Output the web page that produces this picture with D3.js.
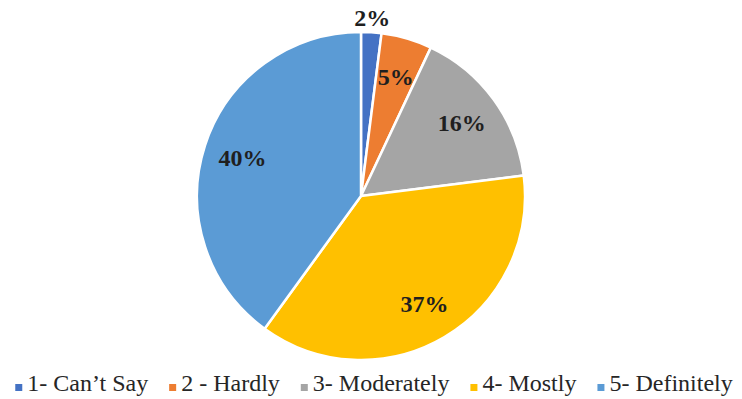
<!DOCTYPE html>
<html><head><meta charset="utf-8">
<script src="https://cdn.jsdelivr.net/npm/d3@7"></script>
<style>html,body{margin:0;padding:0;background:#fff;overflow:hidden}</style>
</head><body>
<svg id="chart" width="742" height="399"></svg>
<script>
const categories = ["1- Can\u2019t Say", "2 - Hardly", "3- Moderately", "4- Mostly", "5- Definitely"];
const values = [2, 5, 16, 37, 40];
const labels = ["2%", "5%", "16%", "37%", "40%"];
const colors = ["#4472C4", "#ED7D31", "#A5A5A5", "#FFC000", "#5B9BD5"];

const FONT = '"Liberation Serif", "Times New Roman", serif';
const svg = d3.select("#chart");
const cx = 361, cy = 196, r = 164;
const g = svg.append("g").attr("transform", `translate(${cx},${cy})`);

const pie = d3.pie().sort(null).value(d => d)(values);
const arc = d3.arc().innerRadius(0).outerRadius(r);
const labelArc = d3.arc().innerRadius(r * 0.76).outerRadius(r * 0.76);
const outArc = d3.arc().innerRadius(r * 1.09).outerRadius(r * 1.09);

g.selectAll("path.slice").data(pie).join("path")
  .attr("class", "slice")
  .attr("d", arc)
  .attr("fill", (d, i) => colors[i])
  .attr("stroke", "#fff")
  .attr("stroke-width", 2.5)
  .attr("stroke-linejoin", "round");

g.selectAll("text.lbl").data(pie).join("text")
  .attr("class", "lbl")
  .attr("transform", d => `translate(${(d.data < 3 ? outArc : labelArc).centroid(d)})`)
  .attr("text-anchor", "middle")
  .attr("dy", "0.35em")
  .style("font-family", FONT)
  .style("font-weight", "bold")
  .style("font-size", "24px")
  .attr("fill", "#1f1f1f")
  .text((d, i) => labels[i]);

// legend
const leg = svg.append("g");
const items = leg.selectAll("g").data(categories).join("g");
items.append("rect").attr("width", 7).attr("height", 7).attr("y", -7)
  .attr("fill", (d, i) => colors[i]);
items.append("text").attr("x", 12).attr("y", 0)
  .style("font-family", FONT)
  .style("font-size", "24px")
  .attr("fill", "#262626")
  .text(d => d);
let x = 0;
const gap = 21;
items.each(function() {
  const el = d3.select(this);
  const w = el.select("text").node().getComputedTextLength() + 12;
  el.attr("transform", `translate(${x},0)`);
  x += w + gap;
});
const total = x - gap;
leg.attr("transform", `translate(${(16 + 732) / 2 - total / 2},391)`);
</script>
</body></html>
